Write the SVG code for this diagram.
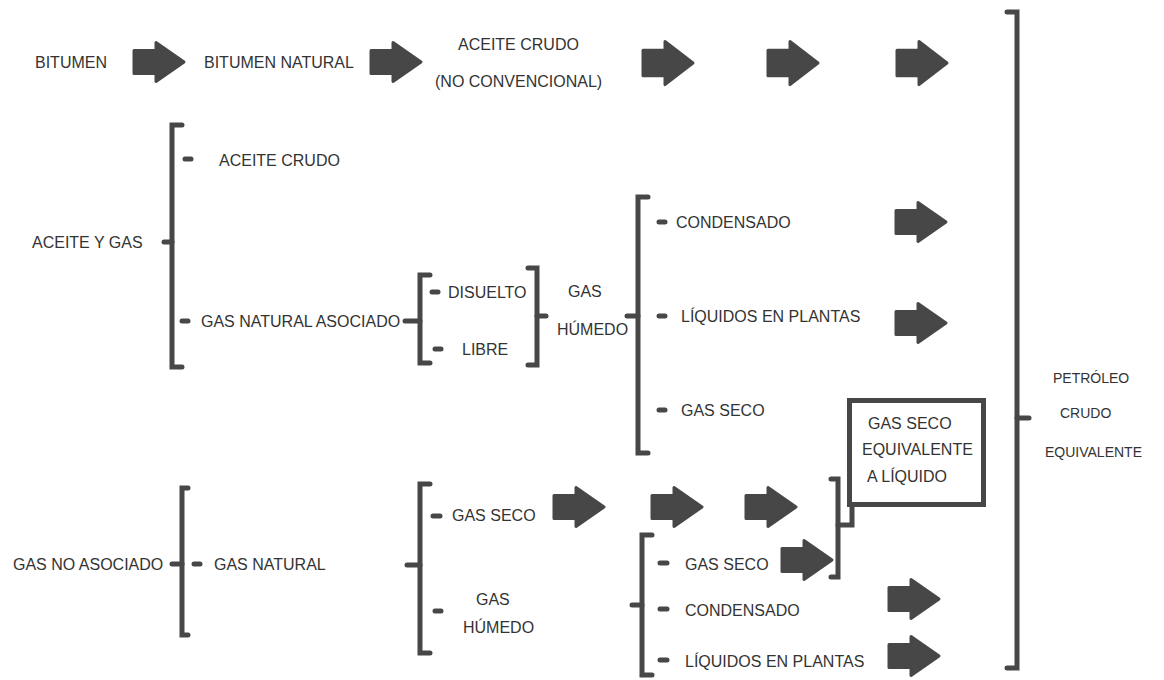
<svg xmlns="http://www.w3.org/2000/svg" xmlns:xlink="http://www.w3.org/1999/xlink" width="1164" height="680" viewBox="0 0 1164 680">
<style>
.t{font-family:"Liberation Sans",Arial,sans-serif;font-size:16px;fill:#333}
.s{font-size:14px}
.br{fill:none;stroke:#474747;stroke-width:5;stroke-linecap:round;stroke-linejoin:miter}
.tk{stroke:#474747;stroke-width:5;stroke-linecap:round}
.ar{fill:#474747;stroke:#474747;stroke-width:3;stroke-linejoin:round}
.bx{fill:#fff;stroke:#474747;stroke-width:5}
</style>
<defs>
<path id="arr" class="ar" d="M1,-11.5 H23 V-19.5 L51,0 L23,19.5 V11.5 H1 Z"/>
</defs>
<rect width="1164" height="680" fill="#fff"/>

<g id="connectors">
<use xlink:href="#arr" transform="translate(133,62)"/>
<use xlink:href="#arr" transform="translate(370,62)"/>
<use xlink:href="#arr" transform="translate(642,63) scale(1,1.1)"/>
<use xlink:href="#arr" transform="translate(767,63) scale(1,1.1)"/>
<use xlink:href="#arr" transform="translate(896,63) scale(1,1.1)"/>
<use xlink:href="#arr" transform="translate(895,222)"/>
<use xlink:href="#arr" transform="translate(895,323)"/>
<use xlink:href="#arr" transform="translate(553,507)"/>
<use xlink:href="#arr" transform="translate(651,507)"/>
<use xlink:href="#arr" transform="translate(745,507)"/>
<use xlink:href="#arr" transform="translate(781,560)"/>
<use xlink:href="#arr" transform="translate(888,599)"/>
<use xlink:href="#arr" transform="translate(888,656)"/>
<path class="br" d="M182,125 H172 V367 H182"/>
<line class="tk" x1="164" y1="242" x2="172" y2="242"/>
<line class="tk" x1="185" y1="159" x2="191" y2="159"/>
<line class="tk" x1="182" y1="321" x2="188" y2="321"/>
<line class="tk" x1="405" y1="321" x2="420" y2="321"/>
<path class="br" d="M430,275 H420 V363 H430"/>
<line class="tk" x1="432" y1="292" x2="438" y2="292"/>
<line class="tk" x1="435" y1="349" x2="441" y2="349"/>
<path class="br" d="M528,268 H537 V365 H528"/>
<line class="tk" x1="537" y1="316" x2="546" y2="316"/>
<path class="br" d="M648,197 H638 V453 H648"/>
<line class="tk" x1="627" y1="316" x2="638" y2="316"/>
<line class="tk" x1="659" y1="222" x2="665" y2="222"/>
<line class="tk" x1="659" y1="316" x2="665" y2="316"/>
<line class="tk" x1="659" y1="410" x2="665" y2="410"/>
<line class="tk" x1="172" y1="564" x2="182" y2="564"/>
<path class="br" d="M188,488 H182 V635 H188"/>
<line class="tk" x1="194" y1="564" x2="200" y2="564"/>
<line class="tk" x1="407" y1="565" x2="420" y2="565"/>
<path class="br" d="M430,484 H420 V653 H430"/>
<line class="tk" x1="433" y1="516" x2="440" y2="516"/>
<line class="tk" x1="435" y1="611" x2="441" y2="611"/>
<path class="br" d="M652,535 H642 V675 H652"/>
<line class="tk" x1="632" y1="605" x2="642" y2="605"/>
<line class="tk" x1="660" y1="563" x2="667" y2="563"/>
<line class="tk" x1="660" y1="609" x2="667" y2="609"/>
<line class="tk" x1="660" y1="660" x2="667" y2="660"/>
<path class="br" d="M831,479 H838 V577 H831"/>
<path class="br" d="M838,525 H852 V505"/>
<path class="br" d="M1007,12 H1017 V668 H1007"/>
<line class="tk" x1="1017" y1="418" x2="1029" y2="418"/>
</g>

<g id="n-bitumen"><text class="t" x="35" y="68">BITUMEN</text></g>
<g id="n-bitumen-natural"><text class="t" x="204" y="68">BITUMEN NATURAL</text></g>
<g id="n-aceite-nc"><text class="t" x="458" y="50">ACEITE CRUDO</text><text class="t" x="435" y="87">(NO CONVENCIONAL)</text></g>
<g id="n-aceite-gas"><text class="t" x="32" y="248">ACEITE Y GAS</text></g>
<g id="n-aceite-crudo"><text class="t" x="219" y="166">ACEITE CRUDO</text></g>
<g id="n-gas-nat-asoc"><text class="t" x="201" y="327">GAS NATURAL ASOCIADO</text></g>
<g id="n-disuelto"><text class="t" x="448" y="298">DISUELTO</text></g>
<g id="n-libre"><text class="t" x="462" y="355">LIBRE</text></g>
<g id="n-gas-humedo-1"><text class="t" x="568" y="297">GAS</text><text class="t" x="557" y="335">HÚMEDO</text></g>
<g id="n-condensado-1"><text class="t" x="676" y="228">CONDENSADO</text></g>
<g id="n-liquidos-1"><text class="t" x="681" y="322">LÍQUIDOS EN PLANTAS</text></g>
<g id="n-gas-seco-1"><text class="t" x="681" y="416">GAS SECO</text></g>
<g id="n-box"><rect class="bx" x="849.5" y="400.5" width="134" height="104"/>
<text class="t" x="868" y="429">GAS SECO</text><text class="t" x="862" y="455">EQUIVALENTE</text><text class="t" x="867" y="482">A LÍQUIDO</text></g>
<g id="n-gas-no-asoc"><text class="t" x="13" y="570">GAS NO ASOCIADO</text></g>
<g id="n-gas-natural"><text class="t" x="214" y="570">GAS NATURAL</text></g>
<g id="n-gas-seco-2"><text class="t" x="452" y="521">GAS SECO</text></g>
<g id="n-gas-humedo-2"><text class="t" x="476" y="605">GAS</text><text class="t" x="463" y="633">HÚMEDO</text></g>
<g id="n-gas-seco-3"><text class="t" x="685" y="570">GAS SECO</text></g>
<g id="n-condensado-2"><text class="t" x="685" y="616">CONDENSADO</text></g>
<g id="n-liquidos-2"><text class="t" x="685" y="667">LÍQUIDOS EN PLANTAS</text></g>
<g id="n-pce"><text class="t s" x="1053" y="383">PETRÓLEO</text><text class="t s" x="1060" y="418">CRUDO</text><text class="t s" x="1045" y="457">EQUIVALENTE</text></g>
</svg>
